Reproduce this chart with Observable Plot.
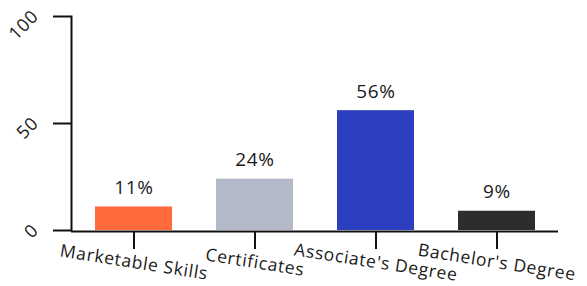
<!DOCTYPE html>
<html>
<head>
<meta charset="utf-8">
<script src="https://cdn.jsdelivr.net/npm/d3@7"></script>
<script src="https://cdn.jsdelivr.net/npm/@observablehq/plot@0.6"></script>
<style>
  html, body { margin: 0; padding: 0; background: #fff; }
  #chart svg { display: block; }
  #chart svg text { letter-spacing: 0.7px; }
</style>
</head>
<body>
<div id="chart"></div>
<script>
const categories = ["Marketable Skills", "Certificates", "Associate's Degree", "Bachelor's Degree"];
const values = [11, 24, 56, 9];
const valueLabels = ["11%", "24%", "56%", "9%"];
const colors = ["#FF6A3D", "#B4B9C9", "#2C3FBE", "#2B2E2D"];
const yTicks = [0, 50, 100];

const data = categories.map((c, i) => ({category: c, value: values[i], label: valueLabels[i], color: colors[i]}));
const font = "'Open Sans', sans-serif";

const chart = Plot.plot({
  width: 587,
  height: 286,
  marginLeft: 71,
  marginRight: 29,
  marginTop: 16,
  marginBottom: 56,
  style: {fontFamily: font, color: "#1a1a1a", background: "#fff"},
  x: {domain: categories, paddingInner: 0.367, paddingOuter: 0.185, axis: null, label: null},
  y: {domain: [0, 100], axis: null, label: null},
  marks: [
    Plot.barY(data, {x: "category", y: "value", fill: "color"}),
    Plot.text(data, {x: "category", y: "value", text: "label", dy: -19, lineAnchor: "middle", fontSize: 19, fontWeight: 500, fill: "#1a1a1a"}),
    Plot.axisY(yTicks, {tickSize: 18, strokeWidth: 2, stroke: "#111", text: null, label: null}),
    Plot.text(yTicks, {y: d => d, frameAnchor: "left", text: d => String(d), dx: -36, dy: -3, rotate: -45, textAnchor: "end", lineAnchor: "middle", fontSize: 18, fill: "#1a1a1a"}),
    Plot.frame({anchor: "left", stroke: "#111", strokeWidth: 2}),
    Plot.ruleY([0], {stroke: "#111", strokeWidth: 2, dy: 1}),
    Plot.axisX({tickSize: 18, strokeWidth: 2, stroke: "#111", text: null, label: null, dy: 1}),
    Plot.text(categories, {x: d => d, frameAnchor: "bottom", dy: 32, rotate: 9, lineAnchor: "middle", fontSize: 17.5, fill: "#1a1a1a"})
  ]
});
document.getElementById("chart").appendChild(chart);
</script>
</body>
</html>
